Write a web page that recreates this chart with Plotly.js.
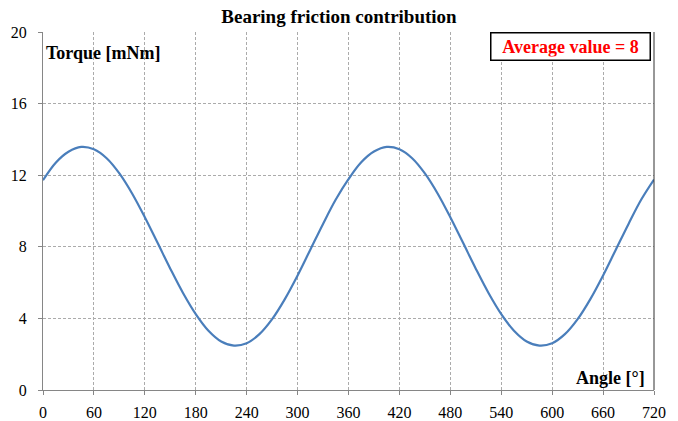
<!DOCTYPE html>
<html><head><meta charset="utf-8">
<script src="https://cdn.plot.ly/plotly-3.0.1.min.js"></script>
<style>html,body{margin:0;padding:0;background:#fff}#chart{width:678px;height:421px}</style>
</head><body><div id="chart"></div>
<script>
const angles = [0,15,30,45,60,75,90,105,120,135,150,165,180,195,210,225,240,255,270,285,300,315,330,345,
  360,375,390,405,420,435,450,465,480,495,510,525,540,555,570,585,600,615,630,645,660,675,690,705,720];
const torque = [11.72,12.70,13.31,13.58,13.45,12.95,12.10,10.98,9.65,8.22,6.78,5.42,4.24,3.31,2.71,2.48,2.61,3.12,3.96,5.08,6.40,7.84,9.28,10.64,
  11.78,12.72,13.32,13.58,13.45,12.95,12.10,10.98,9.65,8.22,6.78,5.42,4.24,3.31,2.71,2.48,2.61,3.12,3.96,5.08,6.40,7.84,9.28,10.64,11.76];
const xTicks = [0,60,120,180,240,300,360,420,480,540,600,660,720];
const yTicks = [0,4,8,12,16,20];
const titleText = 'Bearing friction contribution';
const yLabel = 'Torque [mNm]';
const xLabel = 'Angle [°]';
const avgLabel = 'Average value = 8';

const serif = 'Liberation Serif, Times New Roman, serif';
const grid = {showgrid:true, gridcolor:'#ababab', griddash:'3px,2px', gridwidth:1};

Plotly.newPlot('chart', [{
  x: angles, y: torque, type:'scatter', mode:'lines',
  line:{color:'#4a7ebb', width:2.2, shape:'spline', smoothing:1.0}, hoverinfo:'none'
}], {
  width:678, height:421,
  margin:{l:43, r:24, t:32, b:31},
  paper_bgcolor:'#fff', plot_bgcolor:'#fff',
  showlegend:false,
  title:{text:'<b>'+titleText+'</b>', font:{family:serif, size:19, color:'#000'}, x:0.5, xanchor:'center', y:0.977, yanchor:'top'},
  xaxis:Object.assign({range:[0,720], tickvals:xTicks, ticktext:xTicks.map(String), ticks:'outside', ticklen:4, tickcolor:'#868686',
    ticklabelstandoff:4,
    showline:true, linecolor:'#868686', linewidth:1, zeroline:false, tickfont:{family:serif, size:16, color:'#000'}}, grid),
  yaxis:Object.assign({range:[0,20], tickvals:yTicks, ticktext:yTicks.map(String), ticks:'outside', ticklen:4, tickcolor:'#868686',
    ticklabelstandoff:8,
    showline:true, linecolor:'#868686', linewidth:1, zeroline:false, tickfont:{family:serif, size:16, color:'#000'}}, grid),
  shapes:[{type:'line', xref:'paper', yref:'paper', x0:1, x1:1, y0:0, y1:1, line:{color:'#303030', width:1}}],
  annotations:[
    {text:'<b>'+yLabel+'</b>', xref:'paper', yref:'paper', x:0.002, y:0.975, xanchor:'left', yanchor:'top', showarrow:false,
     font:{family:serif, size:18, color:'#000'}},
    {text:'<b>'+xLabel+'</b>', xref:'paper', yref:'paper', x:0.988, y:0.0, xanchor:'right', yanchor:'bottom', showarrow:false,
     font:{family:serif, size:18, color:'#000'}},
    {text:'<b>'+avgLabel+'</b>', xref:'paper', yref:'paper', x:0.9955, y:1.0, xanchor:'right', yanchor:'top', showarrow:false,
     font:{family:serif, size:18, color:'#ff0000'}, bordercolor:'#000', borderwidth:1.5, borderpad:3, bgcolor:'#fff', width:152, height:20}
  ]
}, {displayModeBar:false, staticPlot:true});
</script></body></html>
